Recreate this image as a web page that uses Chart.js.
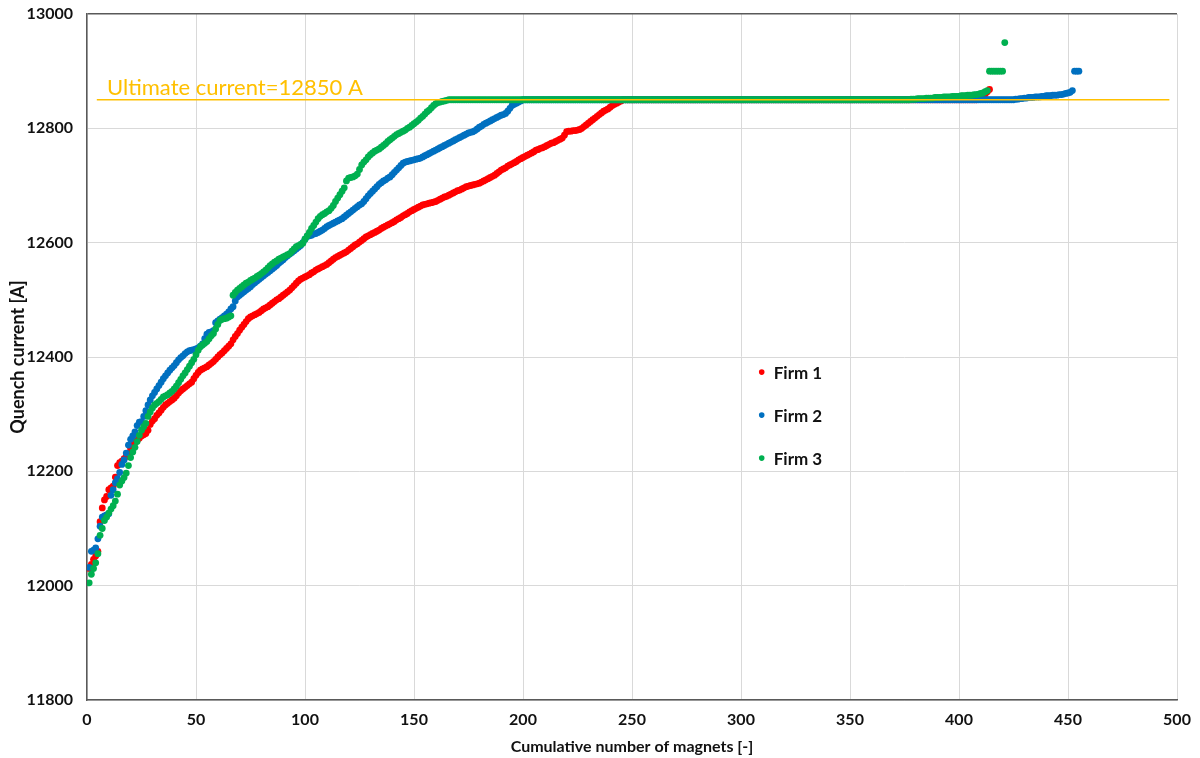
<!DOCTYPE html>
<html><head><meta charset="utf-8">
<script src="https://cdn.jsdelivr.net/npm/chart.js@4/dist/chart.umd.min.js"></script>
<style>html,body{margin:0;padding:0;background:#fff}canvas{display:block}</style>
</head><body>
<canvas id="c" width="1200" height="758"></canvas>
<script>
// ---- data (value k is magnet number k+1) ----
const seriesNames = ['Firm 1', 'Firm 2', 'Firm 3'];
const seriesColors = ['#FF0000', '#0070C0', '#00B050'];

const firm1Current = [
12030,12037,12046,12052,12060,12112,12136,12150,12156,12168,
12171,12174,12190,12210,12215,12218,12222,12226,12232,12240,
12246,12250,12254,12258,12262,12264,12266,12272,12282,12288,
12292,12298,12302,12307,12312,12316,12319,12322,12325,12328,
12332,12337,12341,12344,12347,12350,12353,12356,12362,12368,
12373,12377,12379,12381,12383,12386,12389,12392,12396,12400,
12404,12407,12411,12415,12419,12423,12430,12436,12441,12447,
12452,12457,12462,12467,12470,12472,12474,12476,12478,12481,
12484,12486,12488,12491,12494,12497,12500,12502,12505,12508,
12511,12514,12517,12521,12525,12529,12533,12536,12538,12540,
12542,12544,12547,12549,12552,12554,12556,12558,12560,12562,
12565,12568,12571,12574,12576,12578,12580,12582,12584,12587,
12590,12593,12596,12598,12601,12604,12607,12610,12612,12614,
12616,12618,12620,12622,12625,12627,12629,12631,12633,12635,
12637,12640,12642,12644,12647,12649,12651,12654,12656,12658,
12660,12662,12664,12666,12667,12668,12669,12670,12671,12672,
12674,12676,12678,12680,12681,12683,12685,12687,12689,12691,
12692,12694,12696,12698,12699,12700,12701,12702,12703,12704,
12706,12708,12710,12712,12714,12716,12718,12721,12724,12727,
12729,12731,12734,12736,12738,12740,12742,12745,12747,12749,
12751,12753,12755,12757,12759,12762,12763,12765,12766,12768,
12770,12772,12774,12775,12777,12779,12781,12783,12788,12794,
12795,12795,12796,12796,12797,12798,12800,12803,12806,12809,
12812,12815,12818,12821,12824,12827,12830,12832,12834,12837,
12840,12842,12844,12846,12848,
12850,12850,12850,12850,12850,12850,12850,12850,12850,12850,12850,12850,12850,12850,12850,12850,12850,12850,12850,12850,
12850,12850,12850,12850,12850,12850,12850,12850,12850,12850,12850,12850,12850,12850,12850,12850,12850,12850,12850,12850,
12850,12850,12850,12850,12850,12850,12850,12850,12850,12850,12850,12850,12850,12850,12850,12850,12850,12850,12850,12850,
12850,12850,12850,12850,12850,12850,12850,12850,12850,12850,12850,12850,12850,12850,12850,12850,12850,12850,12850,12850,
12850,12850,12850,12850,12850,12850,12850,12850,12850,12850,12850,12850,12850,12850,12850,12850,12850,12850,12850,12850,
12850,12850,12850,12850,12850,12850,12850,12850,12850,12850,12850,12850,12850,12850,12850,12850,12850,12850,12850,12850,
12850,12850,12850,12850,12850,12850,12850,12850,12850,12850,12850,12850,12850,12850,12850,12850,12850,12850,12850,12850,
12850,12850,12850,12850,12850,12850,12850,12850,12850,12850,12850,12850,12850,12850,12850,12850,12850,12850,12850,12850,
12850,12850,12850,
12852,12854,12856,12860,12864,12868
];

const firm2Current = [
12032,12060,12062,12066,12082,12104,12120,12122,12124,12126,
12158,12168,12180,12187,12198,12212,12220,12232,12246,12256,
12262,12269,12280,12286,12287,12296,12306,12316,12325,12332,
12338,12344,12350,12356,12362,12367,12372,12377,12381,12385,
12390,12395,12399,12402,12406,12409,12411,12412,12413,12414,
12416,12419,12423,12432,12440,12443,12444,12446,12460,12463,
12466,12469,12472,12475,12479,12484,12488,12498,12505,12508,
12511,12514,12517,12520,12523,12527,12530,12533,12536,12539,
12542,12545,12548,12551,12554,12557,12560,12564,12567,12570,
12574,12577,12580,12583,12586,12589,12592,12595,12600,12606,
12611,12612,12613,12615,12616,12618,12620,12622,12625,12628,
12630,12632,12634,12636,12638,12640,12642,12645,12648,12651,
12654,12657,12660,12663,12666,12668,12672,12677,12682,12686,
12690,12694,12698,12702,12705,12708,12710,12713,12715,12719,
12723,12727,12731,12735,12739,12741,12742,12743,12744,12745,
12746,12747,12748,12750,12752,12754,12756,12758,12760,12762,
12764,12766,12768,12770,12772,12774,12776,12778,12780,12782,
12784,12786,12788,12790,12792,12793,12794,12796,12799,12802,
12804,12807,12809,12811,12813,12815,12817,12819,12821,12823,
12824,12826,12830,12835,12840,12842,12844,12846,12848,
12850,12850,12850,12850,12850,12850,12850,12850,12850,12850,12850,12850,12850,12850,12850,12850,12850,12850,12850,12850,
12850,12850,12850,12850,12850,12850,12850,12850,12850,12850,12850,12850,12850,12850,12850,12850,12850,12850,12850,12850,
12850,12850,12850,12850,12850,12850,12850,12850,12850,12850,12850,12850,12850,12850,12850,12850,12850,12850,12850,12850,
12850,12850,12850,12850,12850,12850,12850,12850,12850,12850,12850,12850,12850,12850,12850,12850,12850,12850,12850,12850,
12850,12850,12850,12850,12850,12850,12850,12850,12850,12850,12850,12850,12850,12850,12850,12850,12850,12850,12850,12850,
12850,12850,12850,12850,12850,12850,12850,12850,12850,12850,12850,12850,12850,12850,12850,12850,12850,12850,12850,12850,
12850,12850,12850,12850,12850,12850,12850,12850,12850,12850,12850,12850,12850,12850,12850,12850,12850,12850,12850,12850,
12850,12850,12850,12850,12850,12850,12850,12850,12850,12850,12850,12850,12850,12850,12850,12850,12850,12850,12850,12850,
12850,12850,12850,12850,12850,12850,12850,12850,12850,12850,12850,12850,12850,12850,12850,12850,12850,12850,12850,12850,
12850,12850,12850,12850,12850,12850,12850,12850,12850,12850,12850,12850,12850,12850,12850,12850,12850,12850,12850,12850,
12850,12850,12850,12850,12850,12850,12850,12850,12850,12850,12850,12850,12850,12850,12850,12850,12850,12850,12850,12850,
12850,12850,12850,12850,12850,12850,
12851,12851,12852,12852,12853,12853,12854,12854,12854,12855,
12855,12855,12856,12856,12857,12857,12857,12858,12858,12858,
12859,12859,12860,12861,12862,12863,12866,12900,12900,12900
];

const firm3Current = [
12005,12020,12030,12040,12056,12088,12100,12114,12120,12127,
12134,12140,12148,12160,12176,12183,12189,12197,12210,12224,
12234,12242,12252,12263,12272,12278,12284,12296,12304,12311,
12316,12319,12322,12326,12330,12332,12334,12337,12340,12344,
12349,12355,12361,12367,12372,12378,12384,12390,12396,12404,
12412,12418,12421,12424,12427,12432,12437,12441,12449,12457,
12464,12466,12467,12468,12470,12472,12508,12513,12517,12520,
12523,12526,12529,12531,12534,12536,12538,12541,12543,12546,
12549,12552,12556,12560,12563,12566,12568,12571,12573,12575,
12577,12579,12581,12585,12589,12593,12595,12597,12599,12606,
12612,12618,12625,12630,12636,12642,12646,12649,12651,12654,
12656,12660,12665,12672,12678,12684,12690,12696,12708,12713,
12714,12715,12717,12720,12728,12736,12741,12745,12750,12754,
12757,12760,12762,12764,12767,12770,12773,12777,12780,12783,
12786,12789,12791,12793,12795,12797,12800,12802,12805,12808,
12811,12814,12818,12821,12825,12829,12832,12836,12840,12843,
12845,12846,12847,12848,12849,
12850,12850,12850,12850,12850,12850,12850,12850,12850,12850,12850,12850,12850,12850,12850,12850,12850,12850,12850,12850,
12850,12850,12850,12850,12850,12850,12850,12850,12850,12850,12850,12850,12850,12850,12850,12850,12850,12850,12850,12850,
12850,12850,12850,12850,12850,12850,12850,12850,12850,12850,12850,12850,12850,12850,12850,12850,12850,12850,12850,12850,
12850,12850,12850,12850,12850,12850,12850,12850,12850,12850,12850,12850,12850,12850,12850,12850,12850,12850,12850,12850,
12850,12850,12850,12850,12850,12850,12850,12850,12850,12850,12850,12850,12850,12850,12850,12850,12850,12850,12850,12850,
12850,12850,12850,12850,12850,12850,12850,12850,12850,12850,12850,12850,12850,12850,12850,12850,12850,12850,12850,12850,
12850,12850,12850,12850,12850,12850,12850,12850,12850,12850,12850,12850,12850,12850,12850,12850,12850,12850,12850,12850,
12850,12850,12850,12850,12850,12850,12850,12850,12850,12850,12850,12850,12850,12850,12850,12850,12850,12850,12850,12850,
12850,12850,12850,12850,12850,12850,12850,12850,12850,12850,12850,12850,12850,12850,12850,12850,12850,12850,12850,12850,
12850,12850,12850,12850,12850,12850,12850,12850,12850,12850,12850,12850,12850,12850,12850,12850,12850,12850,12850,12850,
12850,12850,12850,12850,12850,12850,12850,12850,12850,12850,12850,12850,
12851,12851,12851,12852,12852,12852,12852,12853,12853,12853,
12853,12854,12854,12854,12854,12855,12855,12855,12855,12856,
12856,12856,12856,12857,12857,12857,12858,12858,12858,12859,
12859,12860,12861,12862,12864,12866,
12900,12900,12900,12900,12900,12900,12900,12950
];

const ultimateMagnets = [4.5, 496.5];
const ultimateCurrent = [12850, 12850];
const ultimateLabel = 'Ultimate current=12850 A';
const ultimateColor = '#FFC000';

const xTicks = [0, 50, 100, 150, 200, 250, 300, 350, 400, 450, 500];
const yTicks = [11800, 12000, 12200, 12400, 12600, 12800, 13000];
const xTitle = 'Cumulative number of magnets [-]';
const yTitle = 'Quench current [A]';

// ---- build ----
const toPoints = arr => arr.map((v, i) => ({ x: i + 1, y: v }));
const seriesData = [firm1Current, firm2Current, firm3Current];

const FONT = 'Lato, "Open Sans", "DejaVu Sans", sans-serif';

const scatterSets = seriesData.map((arr, i) => ({
  label: seriesNames[i],
  data: toPoints(arr),
  showLine: false,
  pointRadius: 3.4,
  pointHoverRadius: 3.4,
  pointBorderWidth: 0,
  backgroundColor: seriesColors[i],
  borderColor: seriesColors[i]
}));

const ultimateSet = {
  label: 'Ultimate',
  data: ultimateMagnets.map((m, i) => ({ x: m, y: ultimateCurrent[i] })),
  showLine: true,
  borderColor: ultimateColor,
  borderWidth: 1.6,
  pointRadius: 0,
  fill: false
};

// chart.js draws dataset 0 last (on top)
const datasets = [ultimateSet, scatterSets[2], scatterSets[1], scatterSets[0]];

const overlayPlugin = {
  id: 'overlay',
  afterDatasetsDraw(chart) {
    const { ctx, scales, chartArea } = chart;
    const xs = scales.x, ys = scales.y;
    ctx.save();
    // ultimate label
    ctx.fillStyle = ultimateColor;
    ctx.font = '22px ' + FONT;
    ctx.textAlign = 'left';
    ctx.textBaseline = 'alphabetic';
    ctx.fillText(ultimateLabel, xs.getPixelForValue(9.2), ys.getPixelForValue(ultimateCurrent[0]) - 5);
    // legend
    const lx = chartArea.left + 0.619 * (chartArea.right - chartArea.left);
    const ly0 = chartArea.top + 0.522 * (chartArea.bottom - chartArea.top);
    const gap = 43;
    ctx.font = 'bold 17px ' + FONT;
    ctx.textBaseline = 'middle';
    seriesNames.forEach((n, i) => {
      const y = ly0 + i * gap;
      ctx.beginPath();
      ctx.arc(lx, y, 2.8, 0, Math.PI * 2);
      ctx.fillStyle = seriesColors[i];
      ctx.fill();
      ctx.fillStyle = '#111';
      ctx.fillText(n, lx + 12, y + 1);
    });
    ctx.restore();
  }
};

new Chart(document.getElementById('c'), {
  type: 'scatter',
  data: { datasets },
  options: {
    responsive: false,
    animation: false,
    devicePixelRatio: 1,
    events: [],
    layout: { padding: { left: 0, top: 14, right: 23, bottom: 0 } },
    plugins: { legend: { display: false }, tooltip: { enabled: false } },
    scales: {
      x: {
        type: 'linear', min: 0, max: 500,
        afterBuildTicks: s => { s.ticks = xTicks.map(v => ({ value: v })); },
        afterFit: s => { s.height = 58; s.paddingLeft = 0; s.paddingRight = 0; },
        grid: { color: '#d9d9d9', lineWidth: 1, drawTicks: false },
        border: { color: '#595959', width: 1.5 },
        ticks: { padding: 10, color: '#111', callback: v => String(v),
                 font: { family: FONT, size: 16, weight: 'bold' } },
        title: { display: true, text: xTitle, color: '#111', padding: { top: 4, bottom: 2 },
                 font: { family: FONT, size: 16, weight: 'bold' } }
      },
      y: {
        type: 'linear', min: 11800, max: 13000,
        afterBuildTicks: s => { s.ticks = yTicks.map(v => ({ value: v })); },
        afterFit: s => { s.width = 87; s.paddingTop = 0; s.paddingBottom = 0; },
        grid: { color: c => (c.tick && c.tick.value === 13000) ? '#595959' : '#d9d9d9',
                lineWidth: c => (c.tick && c.tick.value === 13000) ? 1.5 : 1, drawTicks: false },
        border: { color: '#595959', width: 1.5 },
        ticks: { padding: 14, color: '#111', callback: v => String(v),
                 font: { family: FONT, size: 16, weight: 'bold' } },
        title: { display: true, text: yTitle, color: '#111', padding: { top: 7, bottom: 4 },
                 font: { family: FONT, size: 18, weight: 'bold' } }
      }
    }
  },
  plugins: [overlayPlugin]
});
</script>
</body></html>
